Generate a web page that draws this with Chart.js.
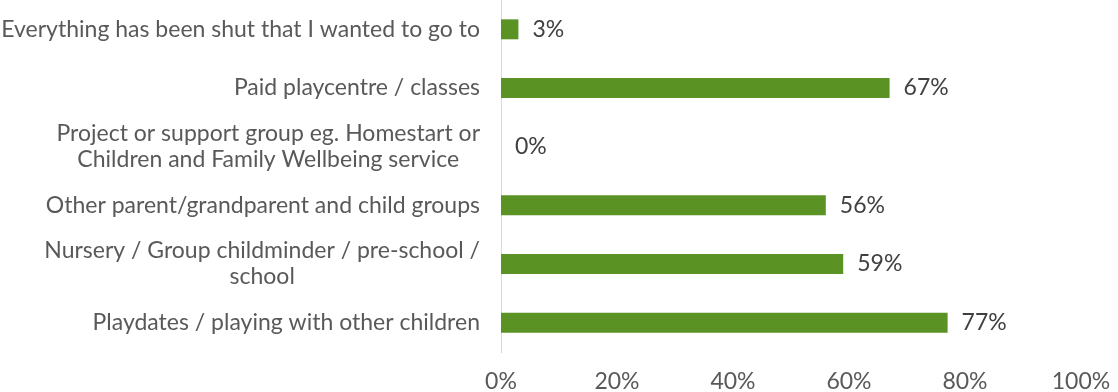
<!DOCTYPE html>
<html>
<head>
<meta charset="utf-8">
<script src="https://cdn.jsdelivr.net/npm/chart.js@4.4.1/dist/chart.umd.min.js"></script>
<style>
  html, body { margin: 0; padding: 0; background: #fff; }
  #wrap { width: 1118px; height: 392px; }
</style>
</head>
<body>
<div id="wrap"><canvas id="activityChart"></canvas></div>
<script>
const categories = [
  "Everything has been shut that I wanted to go to",
  "Paid playcentre / classes",
  ["Project or support group eg. Homestart or", "Children and Family Wellbeing service"],
  "Other parent/grandparent and child groups",
  ["Nursery / Group childminder / pre-school /", "school"],
  "Playdates / playing with other children"
];
const percentValues = [3, 67, 0, 56, 59, 77];
const xTicks = [0, 20, 40, 60, 80, 100];

const FONT = "Lato, 'Open Sans', sans-serif";
const FONT_SIZE = 23;
const LINE_H = 26;

// writes the % value just past the end of each bar
const valueLabels = {
  id: "valueLabels",
  afterDatasetsDraw(chart) {
    const ctx = chart.ctx;
    const meta = chart.getDatasetMeta(0);
    ctx.save();
    ctx.font = FONT_SIZE + "px " + FONT;
    ctx.fillStyle = "#404040";
    ctx.textAlign = "left";
    ctx.textBaseline = "middle";
    meta.data.forEach((bar, i) => {
      ctx.fillText(percentValues[i] + "%", bar.x + 14, bar.y);
    });
    ctx.restore();
  }
};

// category names: block right-aligned to the axis, wrapped lines centred on each other
const categoryLabels = {
  id: "categoryLabels",
  afterDraw(chart) {
    const ctx = chart.ctx;
    const yScale = chart.scales.y;
    const rightEdge = yScale.right - 21;
    ctx.save();
    ctx.font = FONT_SIZE + "px " + FONT;
    ctx.fillStyle = "#595959";
    ctx.textAlign = "center";
    ctx.textBaseline = "middle";
    categories.forEach((label, i) => {
      const lines = Array.isArray(label) ? label : [label];
      const blockW = Math.max(...lines.map(l => ctx.measureText(l).width));
      const cx = rightEdge - blockW / 2;
      const cy = yScale.getPixelForValue(i);
      const y0 = cy - (lines.length - 1) * LINE_H / 2;
      lines.forEach((l, j) => ctx.fillText(l, cx, y0 + j * LINE_H));
    });
    ctx.restore();
  }
};

new Chart("activityChart", {
  type: "bar",
  data: {
    labels: categories,
    datasets: [{
      data: percentValues,
      backgroundColor: "#5a9224",
      barPercentage: 0.68,
      categoryPercentage: 0.5
    }]
  },
  options: {
    indexAxis: "y",
    responsive: true,
    maintainAspectRatio: false,
    animation: false,
    layout: { padding: { top: 0, right: 37, left: 0, bottom: 0 } },
    plugins: {
      legend: { display: false },
      tooltip: { enabled: false }
    },
    scales: {
      x: {
        min: 0,
        max: 100,
        afterBuildTicks(scale) {
          scale.ticks = xTicks.map(v => ({ value: v }));
        },
        afterFit(scale) {
          scale.height = 40;
          scale.paddingLeft = 0;
          scale.paddingRight = 0;
        },
        grid: { display: false, drawTicks: false },
        border: { display: false },
        ticks: {
          padding: 16,
          maxRotation: 0,
          color: "#595959",
          font: { family: FONT, size: FONT_SIZE },
          callback: v => v + "%"
        }
      },
      y: {
        afterFit(scale) {
          scale.width = 501;
          scale.paddingTop = 0;
          scale.paddingBottom = 0;
        },
        grid: { display: false, drawTicks: false },
        border: { display: true, color: "#d9d9d9", width: 1 },
        ticks: { display: false }
      }
    }
  },
  plugins: [valueLabels, categoryLabels]
});
</script>
</body>
</html>
